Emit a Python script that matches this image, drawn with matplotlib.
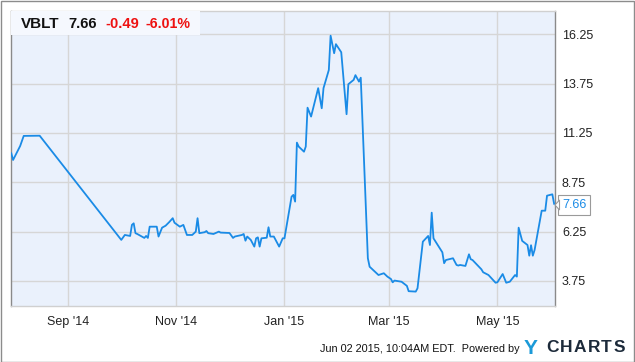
import matplotlib
matplotlib.use("Agg")
import matplotlib.pyplot as plt
from matplotlib.patches import Rectangle, Polygon
import pandas as pd

plt.rcParams['font.family'] = ['Liberation Sans', 'DejaVu Sans']

dates = [
    "2014-07-31", "2014-08-01", "2014-08-05", "2014-08-07", "2014-08-16",
    "2014-10-01", "2014-10-03", "2014-10-06", "2014-10-07", "2014-10-08",
    "2014-10-09", "2014-10-10", "2014-10-14", "2014-10-15", "2014-10-16",
    "2014-10-17", "2014-10-21", "2014-10-22", "2014-10-24", "2014-10-26",
    "2014-10-28", "2014-10-30", "2014-10-31", "2014-11-03", "2014-11-05",
    "2014-11-07", "2014-11-10", "2014-11-12", "2014-11-13", "2014-11-14",
    "2014-11-17", "2014-11-18", "2014-11-19", "2014-11-22", "2014-11-25",
    "2014-11-26", "2014-12-01", "2014-12-03", "2014-12-04", "2014-12-08",
    "2014-12-09", "2014-12-10", "2014-12-11", "2014-12-13", "2014-12-15",
    "2014-12-16", "2014-12-17", "2014-12-18", "2014-12-19", "2014-12-22",
    "2014-12-23", "2014-12-24", "2014-12-26", "2014-12-29", "2014-12-31",
    "2015-01-01", "2015-01-05", "2015-01-06", "2015-01-07", "2015-01-08",
    "2015-01-09", "2015-01-12", "2015-01-13", "2015-01-14", "2015-01-16",
    "2015-01-20", "2015-01-22", "2015-01-23", "2015-01-26", "2015-01-27",
    "2015-01-29", "2015-01-30", "2015-02-02", "2015-02-05", "2015-02-06",
    "2015-02-09", "2015-02-10", "2015-02-12", "2015-02-13", "2015-02-17",
    "2015-02-18", "2015-02-21", "2015-02-23", "2015-02-26", "2015-02-28",
    "2015-03-02", "2015-03-03", "2015-03-04", "2015-03-08", "2015-03-11",
    "2015-03-12", "2015-03-16", "2015-03-17", "2015-03-20", "2015-03-23",
    "2015-03-24", "2015-03-25", "2015-03-26", "2015-03-29", "2015-03-31",
    "2015-04-01", "2015-04-02", "2015-04-06", "2015-04-08", "2015-04-09",
    "2015-04-10", "2015-04-13", "2015-04-15", "2015-04-16", "2015-04-17",
    "2015-04-22", "2015-04-23", "2015-04-26", "2015-04-30", "2015-05-01",
    "2015-05-04", "2015-05-06", "2015-05-08", "2015-05-11", "2015-05-12",
    "2015-05-13", "2015-05-15", "2015-05-18", "2015-05-19", "2015-05-20",
    "2015-05-21", "2015-05-22", "2015-05-26", "2015-05-28", "2015-05-29",
    "2015-06-01", "2015-06-02",
]
prices = [
    10.22, 9.88, 10.59, 11.10, 11.11,
    5.83, 6.08, 6.03, 6.59, 6.67,
    6.17, 6.13, 5.93, 6.03, 5.93,
    6.50, 6.50, 6.00, 6.45, 6.55,
    6.73, 6.93, 6.70, 6.50, 6.59,
    6.08, 6.08, 6.25, 6.93, 6.17,
    6.22, 6.28, 6.17, 6.13, 6.25,
    6.20, 6.18, 5.93, 6.00, 6.08,
    6.13, 5.79, 6.00, 5.83, 5.49,
    5.91, 5.96, 5.49, 5.91, 5.94,
    6.47, 6.00, 6.00, 5.49, 5.91,
    5.91, 8.02, 8.11, 7.77, 10.76,
    10.56, 10.30, 10.56, 12.53, 12.08,
    13.52, 12.50, 13.52, 14.44, 16.18,
    15.29, 15.75, 15.34, 12.20, 13.72,
    13.94, 14.18, 13.85, 14.05, 4.90,
    4.47, 4.22, 4.05, 4.14, 3.97,
    3.85, 3.68, 3.77, 3.71, 3.50,
    3.23, 3.21, 3.38, 5.74, 6.03,
    5.57, 7.21, 5.91, 5.49, 5.20,
    4.65, 4.81, 4.90, 4.56, 4.53,
    4.56, 4.51, 5.10, 4.85, 4.81,
    4.34, 4.19, 4.05, 3.66, 3.68,
    4.10, 3.66, 3.71, 4.05, 3.97,
    6.45, 5.78, 5.57, 5.03, 5.56,
    5.03, 5.32, 7.31, 7.31, 8.07,
    8.14, 7.66,
]
ytick_values = [3.75, 6.25, 8.75, 11.25, 13.75, 16.25]
ytick_labels = ["3.75", "6.25", "8.75", "11.25", "13.75", "16.25"]
xtick_dates = ["2014-09-01", "2014-11-01", "2015-01-01", "2015-03-01", "2015-05-01"]
xtick_labels = ["Sep '14", "Nov '14", "Jan '15", "Mar '15", "May '15"]

ticker = "VBLT"
last_price = "7.66"
change = "-0.49"
change_pct = "-6.01%"

W, H = 635, 362
fig = plt.figure(figsize=(W / 100, H / 100), dpi=100)
fig.patch.set_facecolor("white")

L, R, T, B = 11, 555, 11, 306
ax = fig.add_axes([L / W, 1 - B / H, (R - L) / W, (B - T) / H])
ax.set_facecolor("#eaf1fc")

x = pd.to_datetime(dates)
line_color = "#1a8be6"
ax.plot(x, prices, color=line_color, lw=1.3, solid_joinstyle="round", zorder=3)

ax.set_xlim(pd.Timestamp("2014-07-30 20:00"), pd.Timestamp("2015-06-02 12:00"))
ax.set_ylim(2.48, 17.43)

ax.set_yticks(ytick_values)
ax.set_yticklabels(ytick_labels)
ax.yaxis.tick_right()
ax.set_xticks(pd.to_datetime(xtick_dates))
ax.set_xticklabels(xtick_labels)
ax.tick_params(axis="both", length=0, labelsize=9, colors="#222222")
ax.tick_params(axis="y", pad=5)
ax.tick_params(axis="x", pad=7)
for lbl in ax.get_yticklabels():
    lbl.set_horizontalalignment("left")

ax.grid(True, color="#d6d6d6", lw=1.0, zorder=1)
ax.set_axisbelow(True)

for side in ["left", "right"]:
    ax.spines[side].set_color("#8a8a8a")
    ax.spines[side].set_linewidth(1.0)
for side in ["top", "bottom"]:
    ax.spines[side].set_color("#d0d0d0")
    ax.spines[side].set_linewidth(1.0)

# Header box
hdr = Rectangle((L / W, 1 - 35 / H), (200 - L) / W, 24 / H, transform=fig.transFigure,
                facecolor="#f5f8fe", edgecolor="none", zorder=5)
fig.patches.append(hdr)
hy = 1 - 24 / H
fig.text(21 / W, hy, ticker, fontsize=11, fontweight="bold", color="#111111", va="center", zorder=6)
fig.text(68 / W, hy, last_price, fontsize=10.5, fontweight="bold", color="#111111", va="center", zorder=6)
fig.text(105 / W, hy, change, fontsize=10.5, fontweight="bold", color="#ee1111", va="center", zorder=6)
fig.text(146 / W, hy, change_pct, fontsize=10.2, fontweight="bold", color="#ee1111", va="center", zorder=6)

# Last value tag
ax.annotate(last_price, xy=(x[-1], prices[-1]), xycoords="data",
            xytext=(562 / W, 1 - 205 / H), textcoords="figure fraction",
            fontsize=9, color=line_color, va="center", ha="left",
            bbox=dict(boxstyle="square,pad=0.3", fc="white", ec="#9a9a9a", lw=0.8),
            zorder=7, annotation_clip=False)
arrow = Polygon([(555 / W, 1 - 205 / H), (559.5 / W, 1 - 200 / H), (559.5 / W, 1 - 210 / H)],
                closed=True, transform=fig.transFigure, facecolor="white",
                edgecolor="#9a9a9a", lw=0.8, zorder=8)
fig.patches.append(arrow)

# Footer
fig.text(520 / W, 1 - 349 / H, "Jun 02 2015, 10:04AM EDT.  Powered by", fontsize=7.8,
         color="#111111", ha="right", va="center")
fig.text(524 / W, 1 - 348 / H, "Y", fontsize=15, fontweight="bold", color="#1b9ad8",
         ha="left", va="center")
logo_letters = ["C", "H", "A", "R", "T", "S"]
logo_x = [546, 560, 574, 588, 601, 614]
for ch, lx in zip(logo_letters, logo_x):
    fig.text(lx / W, 1 - 348 / H, ch, fontsize=12.5, fontweight="bold",
             color="#1c2a3a", ha="left", va="center")

# Outer frame
frame = Rectangle((0.5 / W, 0.5 / H), (W - 1.5) / W, (H - 1.5) / H, transform=fig.transFigure,
                  facecolor="none", edgecolor="#8c8c8c", lw=1.0, zorder=10)
fig.patches.append(frame)

fig.savefig("out.png", dpi=100)
